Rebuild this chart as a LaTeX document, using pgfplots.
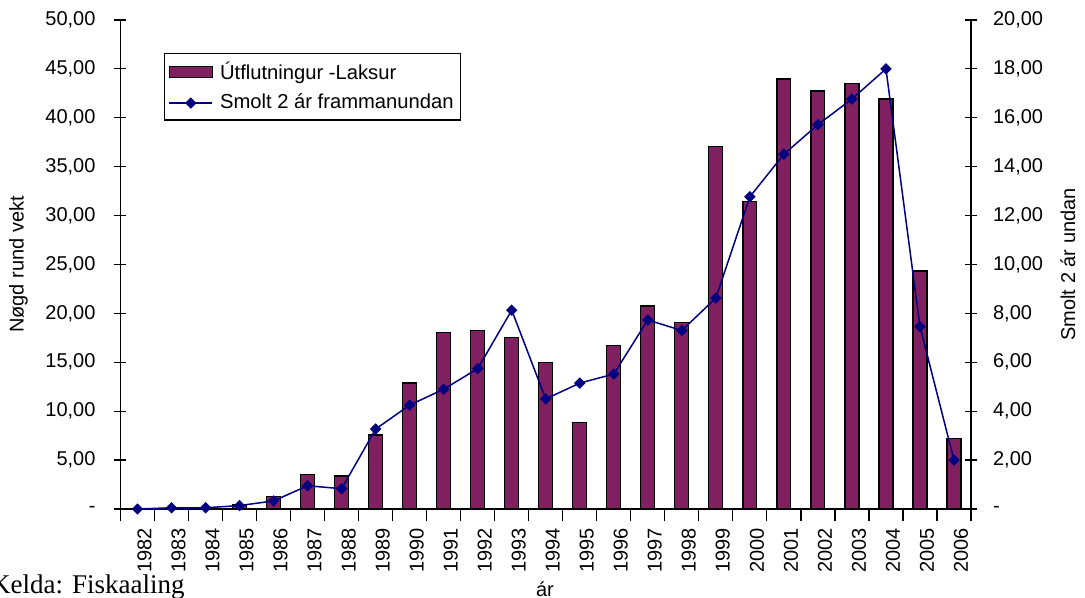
\documentclass[border=0pt]{standalone}
\usepackage{pgfplots}
\pgfplotsset{compat=1.18}
\usepackage{fontspec}
\setmainfont{Liberation Sans}
\newfontfamily\timesfont{Liberation Serif}
\definecolor{barcol}{RGB}{128,32,96}
\definecolor{linecol}{RGB}{0,0,128}

\pgfplotsset{
  mylinelegend/.style={legend image code/.code={\draw[mark repeat=2,mark phase=2,##1] plot coordinates {(0pt,0pt) (10.75pt,0pt) (21.5pt,0pt)}; \path (23.5pt,0pt);}},
  mybarlegend/.style={legend image code/.code={\draw[fill=barcol,draw=black,line width=0.6pt] (0pt,-2.75pt) rectangle (21.5pt,2.75pt); \path (23.5pt,0pt);}},
}

\pgfplotstableread{
x y
0 0
1 0
2 0
3 0.45
4 1.3
5 3.55
6 3.37
7 7.57
8 12.88
9 18.03
10 18.23
11 17.56
12 14.96
13 8.83
14 16.74
15 20.76
16 19.05
17 37.09
18 31.42
19 43.97
20 42.74
21 43.53
22 41.92
23 24.34
24 7.23
}\bardata

\pgfplotstableread{
x y
0 0
1 0.05
2 0.05
3 0.14
4 0.33
5 0.95
6 0.83
7 3.27
8 4.25
9 4.9
10 5.74
11 8.13
12 4.5
13 5.15
14 5.52
15 7.73
16 7.3
17 8.63
18 12.77
19 14.51
20 15.72
21 16.77
22 18.0
23 7.46
24 2.0
}\linedata

\begin{document}
\begin{tikzpicture}
\pgfplotsset{
  common/.style={
    scale only axis, width=425.25pt, height=244.5pt,
    at={(0pt,0pt)}, anchor=south west,
    xmin=-0.5, xmax=24.5,
    font=\fontsize{10}{12}\selectfont,
    tick align=center, major tick length=6pt, minor tick length=6pt,
    axis line style={-, line width=0.6pt},
    tick style={line width=0.6pt, black},
    minor tick style={line width=0.6pt, black},
  }
}
\begin{axis}[
  common,
  ymin=0, ymax=50,
  axis y line*=left, axis x line*=bottom,
  ytick={0,5,...,50},
  yticklabels={{-},{5,00},{10,00},{15,00},{20,00},{25,00},{30,00},{35,00},{40,00},{45,00},{50,00}},
  yticklabel style={xshift=-6pt},
  xtick={0,...,24},
  xticklabels={1982,1983,1984,1985,1986,1987,1988,1989,1990,1991,1992,1993,1994,1995,1996,1997,1998,1999,2000,2001,2002,2003,2004,2005,2006},
  major x tick style={draw=none},
  minor xtick={-0.5,0.5,...,24.5},
  xticklabel style={rotate=90, anchor=east, yshift=-3.5pt},
  ylabel={Nøgd rund vekt},
  ylabel style={at={(axis description cs:-0.1199,0.5)}, anchor=center},
  xlabel={ár},
  xlabel style={at={(axis description cs:0.499,-0.1636)}, anchor=center},
  ybar, bar width=0.41,
  clip=false,
]
\addplot[fill=barcol, draw=black, line width=0.6pt] table[x=x,y=y] {\bardata};
\node[anchor=base west, font=\timesfont\fontsize{13.5}{16}\selectfont] at (axis description cs:-0.1605,-0.1718) {Kelda: Fiskaaling};
\end{axis}

\begin{axis}[
  common,
  ymin=0, ymax=20,
  axis y line*=right, axis x line=none,
  ytick={0,2,...,20},
  yticklabels={{-},{2,00},{4,00},{6,00},{8,00},{10,00},{12,00},{14,00},{16,00},{18,00},{20,00}},
  yticklabel style={xshift=4.5pt},
  ylabel={Smolt 2 ár undan},
  ylabel style={at={(axis description cs:1.114,0.5)}, anchor=center},
  clip=false,
  legend style={at={(axis description cs:0.0511,0.9325)}, anchor=north west,
    draw=black, line width=0.6pt, fill=white,
    inner xsep=2pt, inner ysep=2.5pt, row sep=3pt,
    nodes={inner sep=1.5pt},
    font=\fontsize{10.1}{12}\selectfont},
  legend cell align=left,
]
\addlegendimage{mybarlegend}
\addlegendentry{Útflutningur -Laksur}
\addplot[color=linecol, line width=0.75pt, mark=square*, mark size=1.65pt,
  mark options={rotate=45, fill=linecol, draw=linecol, solid},
  mylinelegend]
  table[x=x,y=y] {\linedata};
\addlegendentry{Smolt 2 ár frammanundan}
\end{axis}
\pgfresetboundingbox
\path[use as bounding box] (-60.25pt,-44.5pt) rectangle (482.25pt,254.5pt);
\end{tikzpicture}
\end{document}
